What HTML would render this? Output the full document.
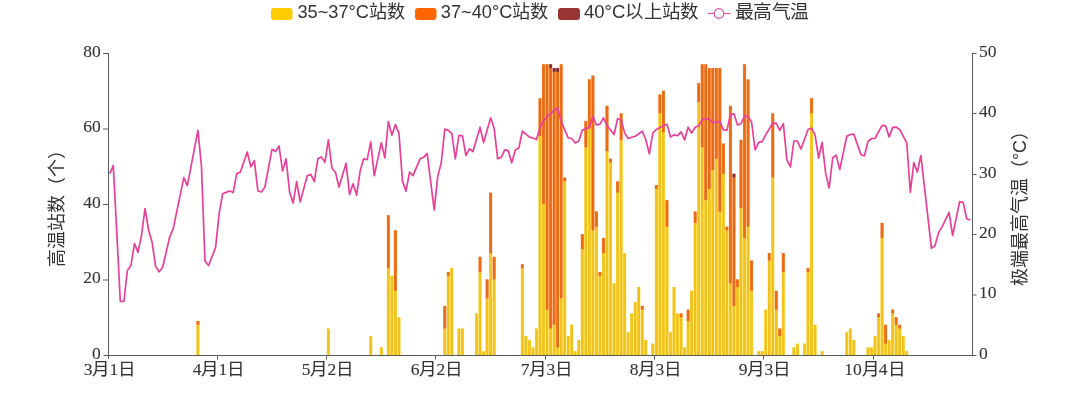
<!DOCTYPE html>
<html lang="zh-CN"><head><meta charset="utf-8">
<style>
html,body{margin:0;padding:0;background:#fff;width:1080px;height:408px;overflow:hidden}
svg{position:absolute;left:0;top:0;will-change:transform}
.ser{font-family:"Liberation Serif",serif;font-size:17.5px;fill:#333;stroke:#333;stroke-width:0.1px}
.san{font-family:"Liberation Sans",sans-serif;font-size:17px;fill:#333}
</style></head><body>
<svg width="1080" height="408" viewBox="0 0 1080 408">
<!-- legend -->
<rect x="271" y="8" width="21.5" height="12" rx="3" fill="#FFCC00"/>
<text class="san" style="font-size:18.2px" x="297.5" y="18.4" textLength="107.5" lengthAdjust="spacingAndGlyphs">35~37°C站数</text>
<rect x="415" y="8" width="21.5" height="12" rx="3" fill="#FF6600"/>
<text class="san" style="font-size:18.2px" x="440.8" y="18.4" textLength="107.5" lengthAdjust="spacingAndGlyphs">37~40°C站数</text>
<rect x="558" y="8" width="22" height="12" rx="3" fill="#993434"/>
<text class="san" style="font-size:18.2px" x="584" y="18.4" textLength="114.5" lengthAdjust="spacingAndGlyphs">40°C以上站数</text>
<line x1="707.5" y1="13.5" x2="730.5" y2="13.5" stroke="#DE4F9C" stroke-width="1.1"/>
<circle cx="719" cy="13.5" r="4.9" fill="#fff" stroke="#DE4F9C" stroke-width="1.1"/>
<text class="san" style="font-size:18.2px" x="734.5" y="18.4" textLength="74.5" lengthAdjust="spacingAndGlyphs">最高气温</text>
<defs><filter id="bl" x="-2%" y="-2%" width="104%" height="104%"><feGaussianBlur stdDeviation="0.3"/></filter></defs><g filter="url(#bl)"><g fill="#FFE150"><rect x="196.33" y="324.80" width="3.2" height="30.20"/><rect x="326.81" y="328.57" width="3.2" height="26.43"/><rect x="369.13" y="336.12" width="3.2" height="18.88"/><rect x="379.71" y="347.45" width="3.2" height="7.55"/><rect x="386.76" y="268.18" width="3.2" height="86.82"/><rect x="390.29" y="275.73" width="3.2" height="79.27"/><rect x="393.81" y="290.82" width="3.2" height="64.18"/><rect x="397.34" y="317.25" width="3.2" height="37.75"/><rect x="443.18" y="328.57" width="3.2" height="26.43"/><rect x="446.71" y="275.73" width="3.2" height="79.27"/><rect x="450.24" y="268.18" width="3.2" height="86.82"/><rect x="457.29" y="328.57" width="3.2" height="26.43"/><rect x="460.82" y="328.57" width="3.2" height="26.43"/><rect x="474.92" y="313.48" width="3.2" height="41.52"/><rect x="478.45" y="271.95" width="3.2" height="83.05"/><rect x="481.98" y="351.23" width="3.2" height="3.77"/><rect x="485.50" y="298.38" width="3.2" height="56.62"/><rect x="489.03" y="253.07" width="3.2" height="101.93"/><rect x="492.56" y="279.50" width="3.2" height="75.50"/><rect x="520.77" y="268.18" width="3.2" height="86.82"/><rect x="524.29" y="336.12" width="3.2" height="18.88"/><rect x="527.82" y="339.90" width="3.2" height="15.10"/><rect x="531.35" y="347.45" width="3.2" height="7.55"/><rect x="534.87" y="328.57" width="3.2" height="26.43"/><rect x="538.40" y="136.05" width="3.2" height="218.95"/><rect x="541.93" y="204.00" width="3.2" height="151.00"/><rect x="545.45" y="309.70" width="3.2" height="45.30"/><rect x="548.98" y="328.57" width="3.2" height="26.43"/><rect x="552.51" y="324.80" width="3.2" height="30.20"/><rect x="556.03" y="347.45" width="3.2" height="7.55"/><rect x="559.56" y="298.38" width="3.2" height="56.62"/><rect x="563.09" y="181.35" width="3.2" height="173.65"/><rect x="566.61" y="336.12" width="3.2" height="18.88"/><rect x="570.14" y="324.80" width="3.2" height="30.20"/><rect x="573.67" y="351.23" width="3.2" height="3.77"/><rect x="577.19" y="339.90" width="3.2" height="15.10"/><rect x="580.72" y="249.30" width="3.2" height="105.70"/><rect x="584.24" y="147.38" width="3.2" height="207.62"/><rect x="587.77" y="128.50" width="3.2" height="226.50"/><rect x="591.30" y="230.43" width="3.2" height="124.57"/><rect x="594.82" y="226.65" width="3.2" height="128.35"/><rect x="598.35" y="275.73" width="3.2" height="79.27"/><rect x="601.88" y="253.07" width="3.2" height="101.93"/><rect x="605.40" y="151.15" width="3.2" height="203.85"/><rect x="608.93" y="162.47" width="3.2" height="192.53"/><rect x="612.46" y="283.27" width="3.2" height="71.73"/><rect x="615.98" y="192.68" width="3.2" height="162.32"/><rect x="619.51" y="139.83" width="3.2" height="215.17"/><rect x="623.04" y="253.07" width="3.2" height="101.93"/><rect x="626.56" y="332.35" width="3.2" height="22.65"/><rect x="630.09" y="313.48" width="3.2" height="41.52"/><rect x="633.62" y="302.15" width="3.2" height="52.85"/><rect x="637.14" y="287.05" width="3.2" height="67.95"/><rect x="640.67" y="309.70" width="3.2" height="45.30"/><rect x="644.20" y="339.90" width="3.2" height="15.10"/><rect x="651.25" y="343.68" width="3.2" height="11.32"/><rect x="654.78" y="188.90" width="3.2" height="166.10"/><rect x="658.30" y="113.40" width="3.2" height="241.60"/><rect x="661.83" y="132.28" width="3.2" height="222.72"/><rect x="665.36" y="226.65" width="3.2" height="128.35"/><rect x="668.88" y="332.35" width="3.2" height="22.65"/><rect x="672.41" y="287.05" width="3.2" height="67.95"/><rect x="675.93" y="313.48" width="3.2" height="41.52"/><rect x="679.46" y="317.25" width="3.2" height="37.75"/><rect x="682.99" y="347.45" width="3.2" height="7.55"/><rect x="686.51" y="321.02" width="3.2" height="33.98"/><rect x="690.04" y="290.82" width="3.2" height="64.18"/><rect x="693.57" y="222.88" width="3.2" height="132.12"/><rect x="697.09" y="102.08" width="3.2" height="252.92"/><rect x="700.62" y="147.38" width="3.2" height="207.62"/><rect x="704.15" y="200.22" width="3.2" height="154.78"/><rect x="707.67" y="188.90" width="3.2" height="166.10"/><rect x="711.20" y="170.03" width="3.2" height="184.97"/><rect x="714.73" y="158.70" width="3.2" height="196.30"/><rect x="718.25" y="211.55" width="3.2" height="143.45"/><rect x="721.78" y="173.80" width="3.2" height="181.20"/><rect x="725.31" y="230.43" width="3.2" height="124.57"/><rect x="728.83" y="283.27" width="3.2" height="71.73"/><rect x="732.36" y="305.93" width="3.2" height="49.07"/><rect x="735.89" y="287.05" width="3.2" height="67.95"/><rect x="739.41" y="207.78" width="3.2" height="147.22"/><rect x="742.94" y="237.98" width="3.2" height="117.02"/><rect x="746.47" y="226.65" width="3.2" height="128.35"/><rect x="749.99" y="290.82" width="3.2" height="64.18"/><rect x="757.04" y="351.23" width="3.2" height="3.77"/><rect x="760.57" y="351.23" width="3.2" height="3.77"/><rect x="764.10" y="309.70" width="3.2" height="45.30"/><rect x="767.62" y="260.62" width="3.2" height="94.38"/><rect x="771.15" y="177.58" width="3.2" height="177.42"/><rect x="774.68" y="309.70" width="3.2" height="45.30"/><rect x="778.20" y="336.12" width="3.2" height="18.88"/><rect x="781.73" y="271.95" width="3.2" height="83.05"/><rect x="792.31" y="347.45" width="3.2" height="7.55"/><rect x="795.84" y="343.68" width="3.2" height="11.32"/><rect x="802.89" y="343.68" width="3.2" height="11.32"/><rect x="806.42" y="271.95" width="3.2" height="83.05"/><rect x="809.94" y="113.40" width="3.2" height="241.60"/><rect x="813.47" y="324.80" width="3.2" height="30.20"/><rect x="820.52" y="351.23" width="3.2" height="3.77"/><rect x="845.21" y="332.35" width="3.2" height="22.65"/><rect x="848.73" y="328.57" width="3.2" height="26.43"/><rect x="852.26" y="339.90" width="3.2" height="15.10"/><rect x="866.37" y="347.45" width="3.2" height="7.55"/><rect x="869.89" y="347.45" width="3.2" height="7.55"/><rect x="873.42" y="336.12" width="3.2" height="18.88"/><rect x="876.95" y="317.25" width="3.2" height="37.75"/><rect x="880.47" y="237.98" width="3.2" height="117.02"/><rect x="884.00" y="343.68" width="3.2" height="11.32"/><rect x="887.53" y="339.90" width="3.2" height="15.10"/><rect x="891.05" y="313.48" width="3.2" height="41.52"/><rect x="894.58" y="324.80" width="3.2" height="30.20"/><rect x="898.11" y="328.57" width="3.2" height="26.43"/><rect x="901.63" y="336.12" width="3.2" height="18.88"/><rect x="905.16" y="351.23" width="3.2" height="3.77"/></g>
<g fill="#FF9A55"><rect x="196.33" y="321.02" width="3.2" height="3.78"/><rect x="386.76" y="215.33" width="3.2" height="52.85"/><rect x="393.81" y="230.43" width="3.2" height="60.40"/><rect x="443.18" y="305.93" width="3.2" height="22.65"/><rect x="446.71" y="271.95" width="3.2" height="3.78"/><rect x="478.45" y="256.85" width="3.2" height="15.10"/><rect x="485.50" y="279.50" width="3.2" height="18.88"/><rect x="489.03" y="192.68" width="3.2" height="60.40"/><rect x="492.56" y="256.85" width="3.2" height="22.65"/><rect x="520.77" y="264.40" width="3.2" height="3.78"/><rect x="538.40" y="98.30" width="3.2" height="37.75"/><rect x="541.93" y="64.32" width="3.2" height="139.68"/><rect x="545.45" y="64.32" width="3.2" height="245.38"/><rect x="548.98" y="68.10" width="3.2" height="260.47"/><rect x="552.51" y="71.88" width="3.2" height="252.93"/><rect x="556.03" y="71.88" width="3.2" height="275.57"/><rect x="559.56" y="64.32" width="3.2" height="234.05"/><rect x="563.09" y="177.58" width="3.2" height="3.77"/><rect x="580.72" y="234.20" width="3.2" height="15.10"/><rect x="584.24" y="120.95" width="3.2" height="26.42"/><rect x="587.77" y="79.43" width="3.2" height="49.07"/><rect x="591.30" y="75.65" width="3.2" height="154.77"/><rect x="594.82" y="211.55" width="3.2" height="15.10"/><rect x="598.35" y="271.95" width="3.2" height="3.78"/><rect x="601.88" y="237.98" width="3.2" height="15.10"/><rect x="605.40" y="105.85" width="3.2" height="45.30"/><rect x="608.93" y="158.70" width="3.2" height="3.77"/><rect x="615.98" y="181.35" width="3.2" height="11.33"/><rect x="619.51" y="113.40" width="3.2" height="26.43"/><rect x="640.67" y="305.93" width="3.2" height="3.77"/><rect x="654.78" y="185.12" width="3.2" height="3.78"/><rect x="658.30" y="94.53" width="3.2" height="18.87"/><rect x="661.83" y="90.75" width="3.2" height="41.53"/><rect x="665.36" y="200.22" width="3.2" height="26.43"/><rect x="679.46" y="313.48" width="3.2" height="3.77"/><rect x="686.51" y="309.70" width="3.2" height="11.32"/><rect x="693.57" y="211.55" width="3.2" height="11.32"/><rect x="697.09" y="83.20" width="3.2" height="18.88"/><rect x="700.62" y="64.32" width="3.2" height="83.05"/><rect x="704.15" y="64.32" width="3.2" height="135.90"/><rect x="707.67" y="68.10" width="3.2" height="120.80"/><rect x="711.20" y="68.10" width="3.2" height="101.92"/><rect x="714.73" y="68.10" width="3.2" height="90.60"/><rect x="718.25" y="68.10" width="3.2" height="143.45"/><rect x="721.78" y="143.60" width="3.2" height="30.20"/><rect x="725.31" y="226.65" width="3.2" height="3.78"/><rect x="728.83" y="105.85" width="3.2" height="177.42"/><rect x="732.36" y="177.58" width="3.2" height="128.35"/><rect x="735.89" y="279.50" width="3.2" height="7.55"/><rect x="739.41" y="139.83" width="3.2" height="67.95"/><rect x="742.94" y="64.32" width="3.2" height="173.65"/><rect x="746.47" y="79.43" width="3.2" height="147.22"/><rect x="749.99" y="260.62" width="3.2" height="30.20"/><rect x="767.62" y="253.07" width="3.2" height="7.55"/><rect x="771.15" y="113.40" width="3.2" height="64.18"/><rect x="774.68" y="290.82" width="3.2" height="18.88"/><rect x="778.20" y="328.57" width="3.2" height="7.55"/><rect x="781.73" y="253.07" width="3.2" height="18.88"/><rect x="806.42" y="268.18" width="3.2" height="3.77"/><rect x="809.94" y="98.30" width="3.2" height="15.10"/><rect x="876.95" y="313.48" width="3.2" height="3.77"/><rect x="880.47" y="222.88" width="3.2" height="15.10"/><rect x="884.00" y="324.80" width="3.2" height="18.88"/><rect x="891.05" y="309.70" width="3.2" height="3.78"/><rect x="894.58" y="317.25" width="3.2" height="7.55"/><rect x="898.11" y="324.80" width="3.2" height="3.77"/></g>
<g fill="#C06060"><rect x="548.98" y="64.32" width="3.2" height="3.78"/><rect x="552.51" y="68.10" width="3.2" height="3.77"/><rect x="556.03" y="68.10" width="3.2" height="3.77"/><rect x="732.36" y="173.80" width="3.2" height="3.78"/></g>
<g fill="#F2C21E"><rect x="196.68" y="324.80" width="2.5" height="30.20"/><rect x="327.16" y="328.57" width="2.5" height="26.43"/><rect x="369.48" y="336.12" width="2.5" height="18.88"/><rect x="380.06" y="347.45" width="2.5" height="7.55"/><rect x="387.11" y="268.18" width="2.5" height="86.82"/><rect x="390.64" y="275.73" width="2.5" height="79.27"/><rect x="394.16" y="290.82" width="2.5" height="64.18"/><rect x="397.69" y="317.25" width="2.5" height="37.75"/><rect x="443.53" y="328.57" width="2.5" height="26.43"/><rect x="447.06" y="275.73" width="2.5" height="79.27"/><rect x="450.59" y="268.18" width="2.5" height="86.82"/><rect x="457.64" y="328.57" width="2.5" height="26.43"/><rect x="461.17" y="328.57" width="2.5" height="26.43"/><rect x="475.27" y="313.48" width="2.5" height="41.52"/><rect x="478.80" y="271.95" width="2.5" height="83.05"/><rect x="482.33" y="351.23" width="2.5" height="3.77"/><rect x="485.85" y="298.38" width="2.5" height="56.62"/><rect x="489.38" y="253.07" width="2.5" height="101.93"/><rect x="492.91" y="279.50" width="2.5" height="75.50"/><rect x="521.12" y="268.18" width="2.5" height="86.82"/><rect x="524.64" y="336.12" width="2.5" height="18.88"/><rect x="528.17" y="339.90" width="2.5" height="15.10"/><rect x="531.70" y="347.45" width="2.5" height="7.55"/><rect x="535.22" y="328.57" width="2.5" height="26.43"/><rect x="538.75" y="136.05" width="2.5" height="218.95"/><rect x="542.28" y="204.00" width="2.5" height="151.00"/><rect x="545.80" y="309.70" width="2.5" height="45.30"/><rect x="549.33" y="328.57" width="2.5" height="26.43"/><rect x="552.86" y="324.80" width="2.5" height="30.20"/><rect x="556.38" y="347.45" width="2.5" height="7.55"/><rect x="559.91" y="298.38" width="2.5" height="56.62"/><rect x="563.44" y="181.35" width="2.5" height="173.65"/><rect x="566.96" y="336.12" width="2.5" height="18.88"/><rect x="570.49" y="324.80" width="2.5" height="30.20"/><rect x="574.02" y="351.23" width="2.5" height="3.77"/><rect x="577.54" y="339.90" width="2.5" height="15.10"/><rect x="581.07" y="249.30" width="2.5" height="105.70"/><rect x="584.59" y="147.38" width="2.5" height="207.62"/><rect x="588.12" y="128.50" width="2.5" height="226.50"/><rect x="591.65" y="230.43" width="2.5" height="124.57"/><rect x="595.17" y="226.65" width="2.5" height="128.35"/><rect x="598.70" y="275.73" width="2.5" height="79.27"/><rect x="602.23" y="253.07" width="2.5" height="101.93"/><rect x="605.75" y="151.15" width="2.5" height="203.85"/><rect x="609.28" y="162.47" width="2.5" height="192.53"/><rect x="612.81" y="283.27" width="2.5" height="71.73"/><rect x="616.33" y="192.68" width="2.5" height="162.32"/><rect x="619.86" y="139.83" width="2.5" height="215.17"/><rect x="623.39" y="253.07" width="2.5" height="101.93"/><rect x="626.91" y="332.35" width="2.5" height="22.65"/><rect x="630.44" y="313.48" width="2.5" height="41.52"/><rect x="633.97" y="302.15" width="2.5" height="52.85"/><rect x="637.49" y="287.05" width="2.5" height="67.95"/><rect x="641.02" y="309.70" width="2.5" height="45.30"/><rect x="644.55" y="339.90" width="2.5" height="15.10"/><rect x="651.60" y="343.68" width="2.5" height="11.32"/><rect x="655.13" y="188.90" width="2.5" height="166.10"/><rect x="658.65" y="113.40" width="2.5" height="241.60"/><rect x="662.18" y="132.28" width="2.5" height="222.72"/><rect x="665.71" y="226.65" width="2.5" height="128.35"/><rect x="669.23" y="332.35" width="2.5" height="22.65"/><rect x="672.76" y="287.05" width="2.5" height="67.95"/><rect x="676.28" y="313.48" width="2.5" height="41.52"/><rect x="679.81" y="317.25" width="2.5" height="37.75"/><rect x="683.34" y="347.45" width="2.5" height="7.55"/><rect x="686.86" y="321.02" width="2.5" height="33.98"/><rect x="690.39" y="290.82" width="2.5" height="64.18"/><rect x="693.92" y="222.88" width="2.5" height="132.12"/><rect x="697.44" y="102.08" width="2.5" height="252.92"/><rect x="700.97" y="147.38" width="2.5" height="207.62"/><rect x="704.50" y="200.22" width="2.5" height="154.78"/><rect x="708.02" y="188.90" width="2.5" height="166.10"/><rect x="711.55" y="170.03" width="2.5" height="184.97"/><rect x="715.08" y="158.70" width="2.5" height="196.30"/><rect x="718.60" y="211.55" width="2.5" height="143.45"/><rect x="722.13" y="173.80" width="2.5" height="181.20"/><rect x="725.66" y="230.43" width="2.5" height="124.57"/><rect x="729.18" y="283.27" width="2.5" height="71.73"/><rect x="732.71" y="305.93" width="2.5" height="49.07"/><rect x="736.24" y="287.05" width="2.5" height="67.95"/><rect x="739.76" y="207.78" width="2.5" height="147.22"/><rect x="743.29" y="237.98" width="2.5" height="117.02"/><rect x="746.82" y="226.65" width="2.5" height="128.35"/><rect x="750.34" y="290.82" width="2.5" height="64.18"/><rect x="757.39" y="351.23" width="2.5" height="3.77"/><rect x="760.92" y="351.23" width="2.5" height="3.77"/><rect x="764.45" y="309.70" width="2.5" height="45.30"/><rect x="767.97" y="260.62" width="2.5" height="94.38"/><rect x="771.50" y="177.58" width="2.5" height="177.42"/><rect x="775.03" y="309.70" width="2.5" height="45.30"/><rect x="778.55" y="336.12" width="2.5" height="18.88"/><rect x="782.08" y="271.95" width="2.5" height="83.05"/><rect x="792.66" y="347.45" width="2.5" height="7.55"/><rect x="796.19" y="343.68" width="2.5" height="11.32"/><rect x="803.24" y="343.68" width="2.5" height="11.32"/><rect x="806.77" y="271.95" width="2.5" height="83.05"/><rect x="810.29" y="113.40" width="2.5" height="241.60"/><rect x="813.82" y="324.80" width="2.5" height="30.20"/><rect x="820.87" y="351.23" width="2.5" height="3.77"/><rect x="845.56" y="332.35" width="2.5" height="22.65"/><rect x="849.08" y="328.57" width="2.5" height="26.43"/><rect x="852.61" y="339.90" width="2.5" height="15.10"/><rect x="866.72" y="347.45" width="2.5" height="7.55"/><rect x="870.24" y="347.45" width="2.5" height="7.55"/><rect x="873.77" y="336.12" width="2.5" height="18.88"/><rect x="877.30" y="317.25" width="2.5" height="37.75"/><rect x="880.82" y="237.98" width="2.5" height="117.02"/><rect x="884.35" y="343.68" width="2.5" height="11.32"/><rect x="887.88" y="339.90" width="2.5" height="15.10"/><rect x="891.40" y="313.48" width="2.5" height="41.52"/><rect x="894.93" y="324.80" width="2.5" height="30.20"/><rect x="898.46" y="328.57" width="2.5" height="26.43"/><rect x="901.98" y="336.12" width="2.5" height="18.88"/><rect x="905.51" y="351.23" width="2.5" height="3.77"/></g>
<g fill="#EA6A12"><rect x="196.68" y="321.02" width="2.5" height="3.78"/><rect x="387.11" y="215.33" width="2.5" height="52.85"/><rect x="394.16" y="230.43" width="2.5" height="60.40"/><rect x="443.53" y="305.93" width="2.5" height="22.65"/><rect x="447.06" y="271.95" width="2.5" height="3.78"/><rect x="478.80" y="256.85" width="2.5" height="15.10"/><rect x="485.85" y="279.50" width="2.5" height="18.88"/><rect x="489.38" y="192.68" width="2.5" height="60.40"/><rect x="492.91" y="256.85" width="2.5" height="22.65"/><rect x="521.12" y="264.40" width="2.5" height="3.78"/><rect x="538.75" y="98.30" width="2.5" height="37.75"/><rect x="542.28" y="64.32" width="2.5" height="139.68"/><rect x="545.80" y="64.32" width="2.5" height="245.38"/><rect x="549.33" y="68.10" width="2.5" height="260.47"/><rect x="552.86" y="71.88" width="2.5" height="252.93"/><rect x="556.38" y="71.88" width="2.5" height="275.57"/><rect x="559.91" y="64.32" width="2.5" height="234.05"/><rect x="563.44" y="177.58" width="2.5" height="3.77"/><rect x="581.07" y="234.20" width="2.5" height="15.10"/><rect x="584.59" y="120.95" width="2.5" height="26.42"/><rect x="588.12" y="79.43" width="2.5" height="49.07"/><rect x="591.65" y="75.65" width="2.5" height="154.77"/><rect x="595.17" y="211.55" width="2.5" height="15.10"/><rect x="598.70" y="271.95" width="2.5" height="3.78"/><rect x="602.23" y="237.98" width="2.5" height="15.10"/><rect x="605.75" y="105.85" width="2.5" height="45.30"/><rect x="609.28" y="158.70" width="2.5" height="3.77"/><rect x="616.33" y="181.35" width="2.5" height="11.33"/><rect x="619.86" y="113.40" width="2.5" height="26.43"/><rect x="641.02" y="305.93" width="2.5" height="3.77"/><rect x="655.13" y="185.12" width="2.5" height="3.78"/><rect x="658.65" y="94.53" width="2.5" height="18.87"/><rect x="662.18" y="90.75" width="2.5" height="41.53"/><rect x="665.71" y="200.22" width="2.5" height="26.43"/><rect x="679.81" y="313.48" width="2.5" height="3.77"/><rect x="686.86" y="309.70" width="2.5" height="11.32"/><rect x="693.92" y="211.55" width="2.5" height="11.32"/><rect x="697.44" y="83.20" width="2.5" height="18.88"/><rect x="700.97" y="64.32" width="2.5" height="83.05"/><rect x="704.50" y="64.32" width="2.5" height="135.90"/><rect x="708.02" y="68.10" width="2.5" height="120.80"/><rect x="711.55" y="68.10" width="2.5" height="101.92"/><rect x="715.08" y="68.10" width="2.5" height="90.60"/><rect x="718.60" y="68.10" width="2.5" height="143.45"/><rect x="722.13" y="143.60" width="2.5" height="30.20"/><rect x="725.66" y="226.65" width="2.5" height="3.78"/><rect x="729.18" y="105.85" width="2.5" height="177.42"/><rect x="732.71" y="177.58" width="2.5" height="128.35"/><rect x="736.24" y="279.50" width="2.5" height="7.55"/><rect x="739.76" y="139.83" width="2.5" height="67.95"/><rect x="743.29" y="64.32" width="2.5" height="173.65"/><rect x="746.82" y="79.43" width="2.5" height="147.22"/><rect x="750.34" y="260.62" width="2.5" height="30.20"/><rect x="767.97" y="253.07" width="2.5" height="7.55"/><rect x="771.50" y="113.40" width="2.5" height="64.18"/><rect x="775.03" y="290.82" width="2.5" height="18.88"/><rect x="778.55" y="328.57" width="2.5" height="7.55"/><rect x="782.08" y="253.07" width="2.5" height="18.88"/><rect x="806.77" y="268.18" width="2.5" height="3.77"/><rect x="810.29" y="98.30" width="2.5" height="15.10"/><rect x="877.30" y="313.48" width="2.5" height="3.77"/><rect x="880.82" y="222.88" width="2.5" height="15.10"/><rect x="884.35" y="324.80" width="2.5" height="18.88"/><rect x="891.40" y="309.70" width="2.5" height="3.78"/><rect x="894.93" y="317.25" width="2.5" height="7.55"/><rect x="898.46" y="324.80" width="2.5" height="3.77"/></g>
<g fill="#7E2C2C"><rect x="549.33" y="64.32" width="2.5" height="3.78"/><rect x="552.86" y="68.10" width="2.5" height="3.77"/><rect x="556.38" y="68.10" width="2.5" height="3.77"/><rect x="732.71" y="173.80" width="2.5" height="3.78"/></g>
<polyline fill="none" stroke="#E8409A" stroke-width="1.7" stroke-linejoin="round" points="109.76,173.6 113.29,165.5 116.82,233.5 120.34,301.5 123.87,301.5 127.40,270.5 130.92,265.6 134.45,243.5 137.98,252.4 141.50,235.4 145.03,208.5 148.56,230.0 152.08,242.2 155.61,266.4 159.13,271.8 162.66,267.3 166.19,252.1 169.71,236.8 173.24,228.7 176.77,211.7 180.29,194.6 183.82,177.6 187.35,185.7 190.87,167.3 194.40,148.8 197.93,130.4 201.45,166.0 204.98,261.0 208.51,265.6 212.03,256.6 215.56,247.6 219.09,213.9 222.61,193.8 226.14,192.4 229.67,191.0 233.19,192.5 236.72,173.6 240.24,172.2 243.77,162.1 247.30,152.0 250.82,166.8 254.35,160.6 257.88,191.0 261.40,192.0 264.93,187.0 268.46,168.2 271.98,149.3 275.51,151.5 279.04,146.0 282.56,170.9 286.09,158.8 289.62,192.5 293.14,203.0 296.67,181.7 300.20,202.0 303.72,188.8 307.25,175.7 310.78,174.4 314.30,181.7 317.83,158.8 321.36,156.9 324.88,162.3 328.41,139.9 331.93,168.2 335.46,172.2 338.99,187.1 342.51,175.2 346.04,163.3 349.57,194.6 353.09,183.8 356.62,195.1 360.15,170.9 363.67,158.8 367.20,159.6 370.73,141.8 374.25,175.7 377.78,159.1 381.31,142.6 384.83,157.9 388.36,121.5 391.89,135.3 395.41,124.5 398.94,133.1 402.47,181.1 405.99,191.1 409.52,172.2 413.04,175.7 416.57,167.2 420.10,158.8 423.62,157.4 427.15,153.4 430.68,181.6 434.20,209.8 437.73,176.3 441.26,162.8 444.78,129.1 448.31,130.4 451.84,133.7 455.36,158.8 458.89,135.3 462.42,135.8 465.94,155.5 469.47,148.8 473.00,151.5 476.52,139.3 480.05,127.2 483.58,142.6 487.10,130.2 490.63,117.8 494.16,128.6 497.68,158.8 501.21,157.4 504.73,149.9 508.26,150.7 511.79,162.8 515.31,149.9 518.84,148.0 522.37,131.0 525.89,134.1 529.42,137.2 532.95,138.0 536.47,139.6 540.00,127.4 543.53,120.7 547.05,117.0 550.58,113.3 554.11,110.5 557.63,107.8 561.16,121.4 564.69,129.7 568.21,138.0 571.74,138.5 575.27,143.0 578.79,141.0 582.32,130.1 585.84,128.8 589.37,127.4 592.90,116.6 596.42,125.0 599.95,124.1 603.48,118.0 607.00,125.4 610.53,129.9 614.06,134.5 617.58,118.7 621.11,120.0 624.64,132.9 628.16,138.5 631.69,137.3 635.22,136.2 638.74,133.7 642.27,131.2 645.80,139.6 649.32,153.8 652.85,132.9 656.38,129.5 659.90,127.4 663.43,125.8 666.96,124.3 670.48,136.9 674.01,134.9 677.53,135.6 681.06,131.8 684.59,139.9 688.11,127.2 691.64,133.1 695.17,127.2 698.69,125.8 702.22,119.3 705.75,119.0 709.27,118.7 712.80,122.7 716.33,122.1 719.85,121.4 723.38,129.9 726.91,130.1 730.43,114.6 733.96,113.9 737.49,125.0 741.01,123.7 744.54,116.0 748.07,116.6 751.59,122.0 755.12,150.0 758.64,142.3 762.17,141.6 765.70,134.9 769.22,129.0 772.75,123.1 776.28,123.4 779.80,130.4 783.33,123.7 786.86,159.6 790.38,166.9 793.91,141.0 797.44,141.0 800.96,149.0 804.49,139.2 808.02,129.5 811.54,128.1 815.07,134.9 818.60,158.2 822.12,142.3 825.65,173.4 829.18,188.0 832.70,157.8 836.23,155.1 839.76,169.6 843.28,152.9 846.81,136.2 850.33,134.5 853.86,134.2 857.39,144.4 860.91,154.7 864.44,155.8 867.97,141.6 871.49,138.5 875.02,138.5 878.55,131.9 882.07,125.4 885.60,125.8 889.13,136.9 892.65,127.4 896.18,127.2 899.71,129.5 903.23,136.2 906.76,143.0 910.29,192.3 913.81,162.6 917.34,172.0 920.87,155.5 924.39,186.4 927.92,217.4 931.44,248.3 934.97,245.8 938.50,232.9 942.02,226.9 945.55,219.6 949.08,212.3 952.60,235.5 956.13,218.6 959.66,201.7 963.18,202.4 966.71,218.8 970.24,220.0"/></g>

<!-- axes -->
<g stroke="#5a5a5a" stroke-width="1" fill="none">
<line x1="108.5" y1="53" x2="108.5" y2="359"/>
<line x1="972.5" y1="53" x2="972.5" y2="355"/>
<line x1="103.5" y1="355.5" x2="976.5" y2="355.5"/>
<line x1="103" y1="53.5" x2="108.5" y2="53.5"/>
<line x1="103" y1="129" x2="108.5" y2="129"/>
<line x1="103" y1="204.5" x2="108.5" y2="204.5"/>
<line x1="103" y1="280" x2="108.5" y2="280"/>
<line x1="972.5" y1="53.5" x2="976.5" y2="53.5"/>
<line x1="972.5" y1="113.5" x2="976.5" y2="113.5"/>
<line x1="972.5" y1="174.5" x2="976.5" y2="174.5"/>
<line x1="972.5" y1="234.5" x2="976.5" y2="234.5"/>
<line x1="972.5" y1="295" x2="976.5" y2="295"/>
<line x1="217.5" y1="355" x2="217.5" y2="359.5"/>
<line x1="326.5" y1="355" x2="326.5" y2="359.5"/>
<line x1="435.5" y1="355" x2="435.5" y2="359.5"/>
<line x1="545.5" y1="355" x2="545.5" y2="359.5"/>
<line x1="654.5" y1="355" x2="654.5" y2="359.5"/>
<line x1="763.5" y1="355" x2="763.5" y2="359.5"/>
<line x1="873.5" y1="355" x2="873.5" y2="359.5"/>
</g>
<g class="ser" text-anchor="end" transform="translate(0.8,-1.6)">
<text x="100" y="58.5">80</text>
<text x="100" y="134">60</text>
<text x="100" y="209.5">40</text>
<text x="100" y="285">20</text>
<text x="100" y="360.5">0</text>
</g>
<g class="ser" text-anchor="start" transform="translate(0,-1.7)">
<text x="979" y="58.5">50</text>
<text x="979" y="119">40</text>
<text x="979" y="179.5">30</text>
<text x="979" y="240">20</text>
<text x="979" y="300">10</text>
<text x="979" y="360.5">0</text>
</g>
<g class="ser" text-anchor="middle">
<text x="109.4" y="375">3月1日</text>
<text x="218.4" y="375">4月1日</text>
<text x="327.4" y="375">5月2日</text>
<text x="436.4" y="375">6月2日</text>
<text x="546.4" y="375">7月3日</text>
<text x="655.4" y="375">8月3日</text>
<text x="764.4" y="375">9月3日</text>
<text x="874.4" y="375">10月4日</text>
</g>
<text class="san" style="font-size:18px" transform="translate(63.3,204.2) rotate(-90)" text-anchor="middle">高温站数（个）</text>
<text class="san" style="font-size:18px" transform="translate(1025.5,204) rotate(-90)" text-anchor="middle">极端最高气温（°C）</text>
</svg>
</body></html>
